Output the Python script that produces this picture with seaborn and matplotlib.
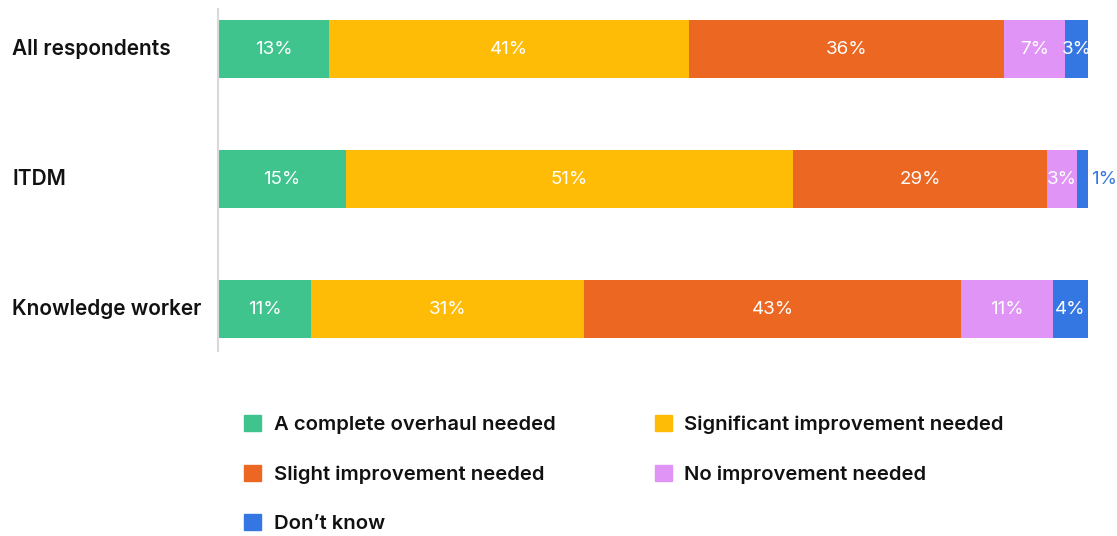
import pandas as pd
import seaborn as sns
import matplotlib.pyplot as plt
import matplotlib.transforms as mtransforms
from matplotlib.patches import Patch

groups = ["All respondents", "ITDM", "Knowledge worker"]
answers = ["A complete overhaul needed", "Significant improvement needed",
           "Slight improvement needed", "No improvement needed", "Don\u2019t know"]
overhaul = [12.8, 14.7, 10.7]
significant = [41.3, 51.4, 31.4]
slight = [36.3, 29.2, 43.3]
no_improvement = [7.0, 3.4, 10.6]
dont_know = [2.6, 1.3, 4.0]
colors = ["#40C48E", "#FFBC07", "#EC6722", "#E094F5", "#3477E3"]

series = [overhaul, significant, slight, no_improvement, dont_know]

sns.set_theme(style="white")
plt.rcParams["font.family"] = ["Inter", "DejaVu Sans"]

fig = plt.figure(figsize=(11.17, 5.36), dpi=100)
ax = fig.add_axes([218 / 1117, 1 - 351 / 536, 870 / 1117, 342 / 536])

# cumulative totals, drawn from the widest down so each segment shows
rows = []
for i, g in enumerate(groups):
    run = 0
    for j, a in enumerate(answers):
        start = run
        run += series[j][i]
        rows.append({"group": g, "answer": a, "start": start, "end": run,
                     "value": series[j][i]})
df = pd.DataFrame(rows)

for j in reversed(range(len(answers))):
    sub = df[df["answer"] == answers[j]]
    sns.barplot(data=sub, x="end", y="group", orient="h", color=colors[j],
                width=0.446, saturation=1, ax=ax, linewidth=0)

for i, g in enumerate(groups):
    for j, a in enumerate(answers):
        r = df[(df["group"] == g) & (df["answer"] == a)].iloc[0]
        label = f"{round(r['value'])}%"
        if r["value"] < 2:
            ax.text(r["end"] + 0.4, i, label, ha="left", va="center",
                    color=colors[j], fontsize=13.5)
        else:
            ax.text((r["start"] + r["end"]) / 2, i, label, ha="center",
                    va="center", color="white", fontsize=13.5)

ax.set_xlim(0, 100)
ax.set_ylim(2.32, -0.31)
ax.set_xlabel("")
ax.set_ylabel("")
ax.set_xticks([])
ax.set_yticks([])

# category names, left aligned at the figure edge
trans = mtransforms.blended_transform_factory(fig.transFigure, ax.transData)
for i, g in enumerate(groups):
    fig.text(12 / 1117, i, g, transform=trans, ha="left", va="center",
             fontsize=15, fontweight="semibold", color="#111111")

for s in ["top", "right", "bottom"]:
    ax.spines[s].set_visible(False)
ax.spines["left"].set_color("#d9d9d9")
ax.spines["left"].set_linewidth(1.5)

handles = [Patch(color=colors[k], label=answers[k]) for k in [0, 2, 4, 1, 3]]
leg = fig.legend(handles=handles, ncol=2, loc="upper left",
                 bbox_to_anchor=(226 / 1117, 1 - 397 / 536), frameon=False,
                 prop={"size": 14.6, "weight": "semibold"},
                 handlelength=0.85, handleheight=0.85,
                 handletextpad=0.6, labelspacing=1.5, columnspacing=4.9)
for t in leg.get_texts():
    t.set_color("#111111")

fig.savefig("out.png", dpi=100)
